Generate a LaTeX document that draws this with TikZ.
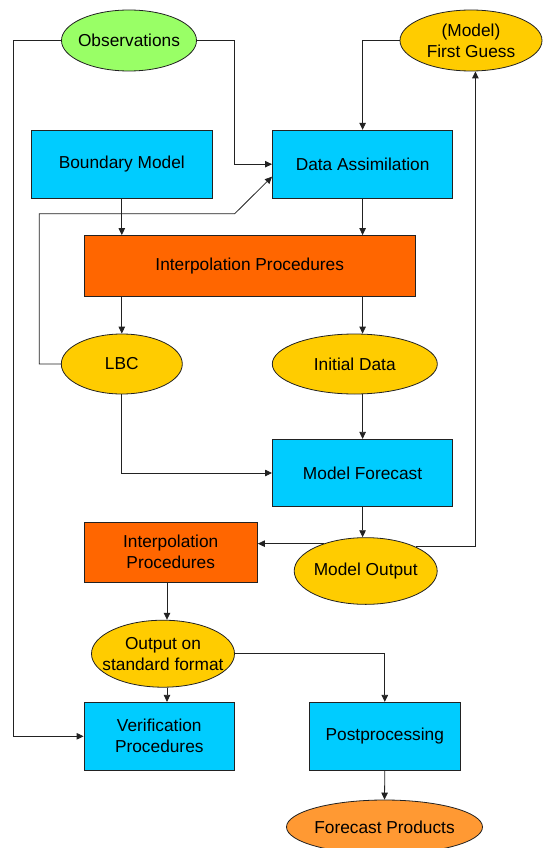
\documentclass[tikz,border=0pt]{standalone}
\usepackage{fontspec}
\setmainfont{Liberation Sans}
\usetikzlibrary{shapes.geometric,arrows.meta}
\definecolor{cbox}{HTML}{00CCFF}
\definecolor{obox}{HTML}{FF6600}
\definecolor{yell}{HTML}{FFCC00}
\definecolor{gell}{HTML}{99FF66}
\definecolor{pell}{HTML}{FF9933}
\definecolor{edge}{HTML}{222222}
\tikzset{
  base/.style={draw=edge, line width=0.8pt, inner sep=0pt, font=\fontsize{17.3}{21}\selectfont, align=center},
  rbox/.style={base, rectangle, fill=cbox},
  obx/.style={base, rectangle, fill=obox},
  ell/.style={base, ellipse, fill=yell},
  txt/.style={inner sep=0pt, font=\fontsize{17.3}{21}\selectfont, align=center},
  conn/.style={draw=edge, line width=0.8pt},
  arr/.style={conn, -{Triangle[length=7pt,width=6.5pt]}}
}
\begin{document}
\begin{tikzpicture}[x=1pt,y=-1pt]
\useasboundingbox (0,0) rectangle (544,848);
% rectangles
\node[rbox, minimum width=181pt, minimum height=68pt] (bm) at (121.8,164.2) {Boundary Model};
\node[rbox, minimum width=180.4pt, minimum height=68pt] (da) at (362.6,164.2) {Data Assimilation};
\node[obx, minimum width=331pt, minimum height=61pt] (ip1) at (249.7,266) {Interpolation Procedures};
\node[rbox, minimum width=180.4pt, minimum height=67.4pt] (mf) at (362.6,473) {Model Forecast};
\node[obx, minimum width=173.5pt, minimum height=60pt] (ip2) at (170.7,552) {Interpolation\\Procedures};
\node[rbox, minimum width=150.6pt, minimum height=68pt] (ver) at (159.3,736.3) {Verification\\Procedures};
\node[rbox, minimum width=150.6pt, minimum height=68pt] (pp) at (384.8,736.3) {Postprocessing};
% ellipses (shape) and their texts
\node[ell, fill=gell, minimum width=135pt, minimum height=61pt] (obs) at (129,40.5) {};
\node[txt] (obsT) at (obs.center) {Observations};
\node[ell, minimum width=142pt, minimum height=61pt] (fg) at (471,40.5) {};
\node[txt] (fgT) at (fg.center) {(Model)\\First Guess};
\node[ell, minimum width=121pt, minimum height=60pt] (lbc) at (121.8,364) {};
\node[txt] (lbcT) at (lbc.center) {LBC};
\node[ell, minimum width=165pt, minimum height=60pt] (id) at (354.8,364) {};
\node[txt] (idT) at (id.center) {Initial Data};
\node[ell, minimum width=143pt, minimum height=66.7pt] (mo) at (365.7,571) {};
\node[txt] (moT) at (mo.center) {Model Output};
\node[ell, minimum width=143pt, minimum height=67pt] (out) at (163,653.7) {};
\node[txt] (outT) at (out.center) {Output on\\standard format};
\node[ell, fill=pell, minimum width=196pt, minimum height=54pt] (fp) at (384.5,827) {};
\node[txt] (fpT) at (fp.center) {Forecast Products};
% helper coordinates
\coordinate (lx) at (13.2,0);
\coordinate (ox) at (234.6,0);
\coordinate (c1) at (39.2,213.8);
\coordinate (c2) at (234.6,213.8);
\coordinate (rx) at (475.4,0);
\coordinate (ax) at (167,0);
% connectors
\draw[arr] (obs.west) -| (lx |- ver.west) -- (ver.west);
\draw[arr] (obs.east) -| (ox |- da.west) -- (da.west);
\draw[arr] (fg.west) -| (da.north);
\draw[arr] (bm.south) -- (bm.south |- ip1.north);
\draw[arr] (da.south) -- (da.south |- ip1.north);
\draw[arr] (lbc.north |- ip1.south) -- (lbc.north);
\draw[arr] (da.south |- ip1.south) -- (da.south |- id.north);
\draw[arr] (lbc.west) -| (c1) -- (c2) -- ([yshift=-12.5pt]da.west);
\draw[arr] (lbc.south) |- (mf.west);
\draw[arr] (mf.north |- id.south) -- (mf.north);
\draw[arr] (mf.south) -- (mf.south |- mo.north);
\draw[arr] (mo.147) -- (mo.147 -| ip2.east);
\draw[arr] (mo.26) -| (rx |- fg.south);
\draw[arr] (ax |- ip2.south) -- (ax |- out.north);
\draw[arr] (ax |- out.south) -- (ax |- ver.north);
\draw[arr] (out.east) -| (pp.north);
\draw[arr] (pp.south) -- (fp.north);
\end{tikzpicture}
\end{document}
